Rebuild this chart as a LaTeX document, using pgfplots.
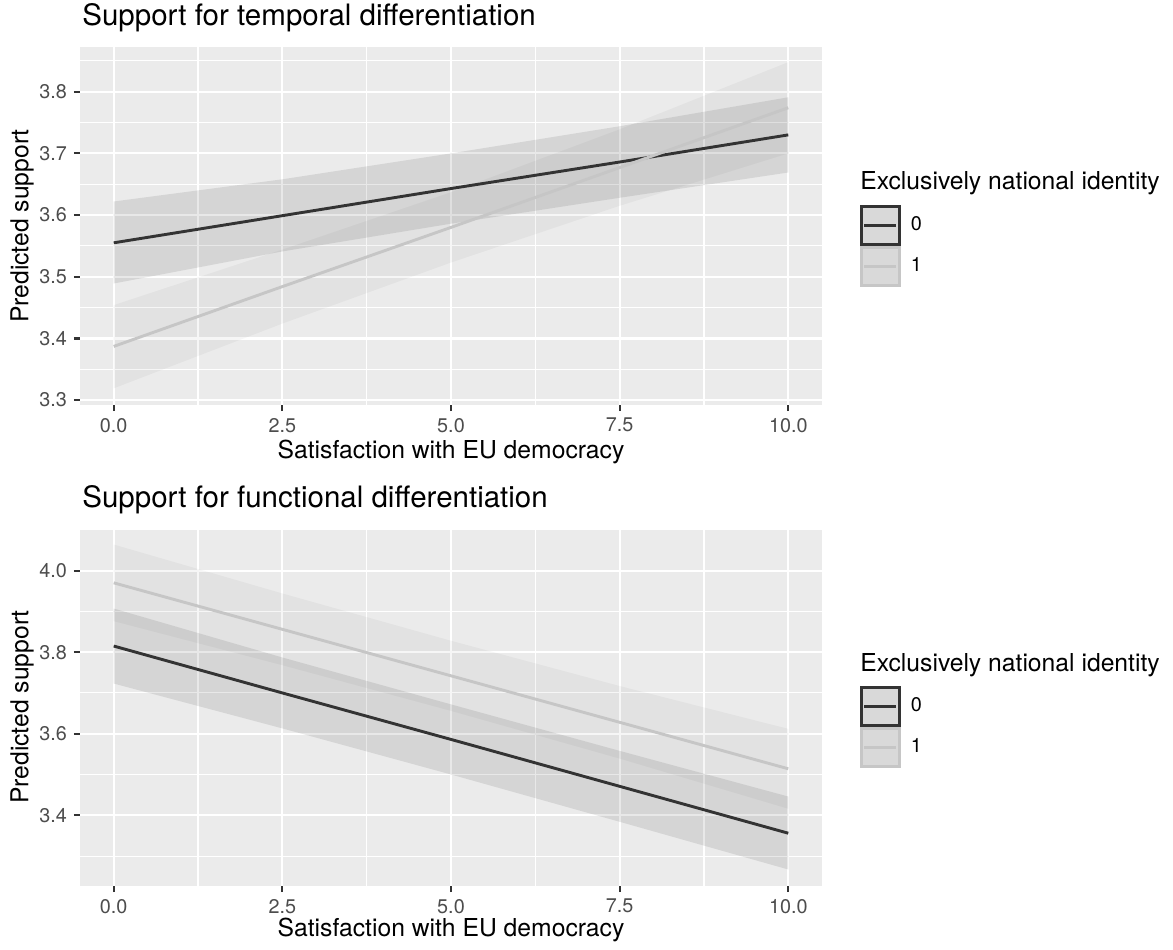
\documentclass[border=0pt]{standalone}
\usepackage{fontspec}
\setmainfont{TeX Gyre Heros}
\usepackage{pgfplots}
\pgfplotsset{compat=1.18}
\definecolor{panel}{HTML}{EBEBEB}
\definecolor{ink0}{HTML}{333333}
\definecolor{ink1}{HTML}{C6C6C6}
\definecolor{keyfill}{HTML}{D9D9D9}
\definecolor{ticklab}{HTML}{4D4D4D}

\pgfplotsset{ggpanel/.style={
  scale only axis, width=371pt, anchor=north west,
  xmin=-0.5, xmax=10.5,
  axis background/.style={fill=panel},
  axis line style={draw=none},
  xtick={0,2.5,5,7.5,10}, xticklabels={0.0,2.5,5.0,7.5,10.0},
  minor xtick={1.25,3.75,6.25,8.75},
  grid=both,
  major grid style={white, line width=1.1pt},
  minor grid style={white, line width=0.55pt},
  tick align=outside, major tick length=3pt, minor tick length=0pt,
  tick style={ink0, line width=1.1pt},
  tick pos=left,
  tick label style={font=\fontsize{9.9}{11}\selectfont, text=ticklab},
  /pgf/number format/assume math mode=true,
  yticklabel style={/pgf/number format/.cd, fixed, fixed zerofill, precision=1},
  legend style={draw=none, fill=none, inner sep=0pt, outer sep=0pt,
    anchor=north west, row sep=0pt, column sep=5pt,
    nodes={inner sep=0pt}, font=\fontsize{9.9}{11}\selectfont},
  legend cell align=left,
  legend image code/.code={
    \draw[##1, fill=keyfill] (0pt,-9.5pt) rectangle (19pt,9.5pt);
    \draw[##1] (1.5pt,0pt) -- (17.5pt,0pt);
  },
}}
\pgfplotsset{band/.style={draw=none, fill=black, fill opacity=#1, forget plot}}

\begin{document}
\begin{tikzpicture}
\path[use as bounding box] (0,0) rectangle (586.5pt,-474.5pt);

% ---- Support for temporal differentiation
\begin{axis}[ggpanel, at={(40pt,-23.5pt)}, height=179pt,
  ymin=3.292, ymax=3.8725,
  ytick={3.3,3.4,3.5,3.6,3.7,3.8},
  minor ytick={3.35,3.45,3.55,3.65,3.75,3.85},
  legend style={at={(rel axis cs:1.0512,0.5587)}}]
% identity = 0: upper edge, then lower edge back
\addplot[band=0.09] coordinates {(0,3.622) (2.5,3.658) (5,3.700) (7.5,3.744) (10,3.791)
  (10,3.669) (7.5,3.628) (5,3.586) (2.5,3.541) (0,3.489)} -- cycle;
% identity = 1
\addplot[band=0.035] coordinates {(0,3.454) (2.5,3.544) (5,3.637) (7.5,3.739) (10,3.848)
  (10,3.700) (7.5,3.615) (5,3.523) (2.5,3.424) (0,3.319)} -- cycle;
\addplot[ink0, line width=1.45pt] coordinates {(0,3.555) (2.5,3.599) (5,3.643) (7.5,3.686) (10,3.730)};
\addlegendentry{0}
\addplot[ink1, line width=1.45pt] coordinates {(0,3.387) (2.5,3.484) (5,3.580) (7.5,3.677) (10,3.774)};
\addlegendentry{1}
\end{axis}

% ---- Support for functional differentiation
\begin{axis}[ggpanel, at={(40pt,-264.5pt)}, height=178.5pt,
  ymin=3.2265, ymax=4.102,
  ytick={3.4,3.6,3.8,4.0},
  minor ytick={3.3,3.5,3.7,3.9,4.1},
  legend style={at={(rel axis cs:1.0512,0.5602)}}]
\addplot[band=0.09] coordinates {(0,3.907) (2.5,3.787) (5,3.672) (7.5,3.558) (10,3.446)
  (10,3.267) (7.5,3.384) (5,3.500) (2.5,3.613) (0,3.723)} -- cycle;
\addplot[band=0.035] coordinates {(0,4.064) (2.5,3.944) (5,3.828) (7.5,3.717) (10,3.612)
  (10,3.416) (7.5,3.539) (5,3.656) (2.5,3.768) (0,3.876)} -- cycle;
\addplot[ink0, line width=1.45pt] coordinates {(0,3.815) (2.5,3.700) (5,3.586) (7.5,3.471) (10,3.356)};
\addlegendentry{0}
\addplot[ink1, line width=1.45pt] coordinates {(0,3.970) (2.5,3.856) (5,3.742) (7.5,3.628) (10,3.514)};
\addlegendentry{1}
\end{axis}

\begin{scope}[every node/.style={inner sep=0pt}]
\node[anchor=west, font=\fontsize{14.75}{17}\selectfont] at (41pt,-9pt) {Support for temporal differentiation};
\node[anchor=west, font=\fontsize{14.75}{17}\selectfont] at (41pt,-250pt) {Support for functional differentiation};
\node[font=\fontsize{12.35}{14}\selectfont] at (225.5pt,-226pt) {Satisfaction with EU democracy};
\node[font=\fontsize{12.35}{14}\selectfont] at (225.5pt,-465pt) {Satisfaction with EU democracy};
\node[rotate=90, font=\fontsize{12.35}{14}\selectfont] at (11pt,-113pt) {Predicted support};
\node[rotate=90, font=\fontsize{12.35}{14}\selectfont] at (11pt,-353.5pt) {Predicted support};
\node[anchor=west, font=\fontsize{12.35}{14}\selectfont] at (430pt,-91.5pt) {Exclusively national identity};
\node[anchor=west, font=\fontsize{12.35}{14}\selectfont] at (430pt,-332.5pt) {Exclusively national identity};
\end{scope}
\end{tikzpicture}
\end{document}
